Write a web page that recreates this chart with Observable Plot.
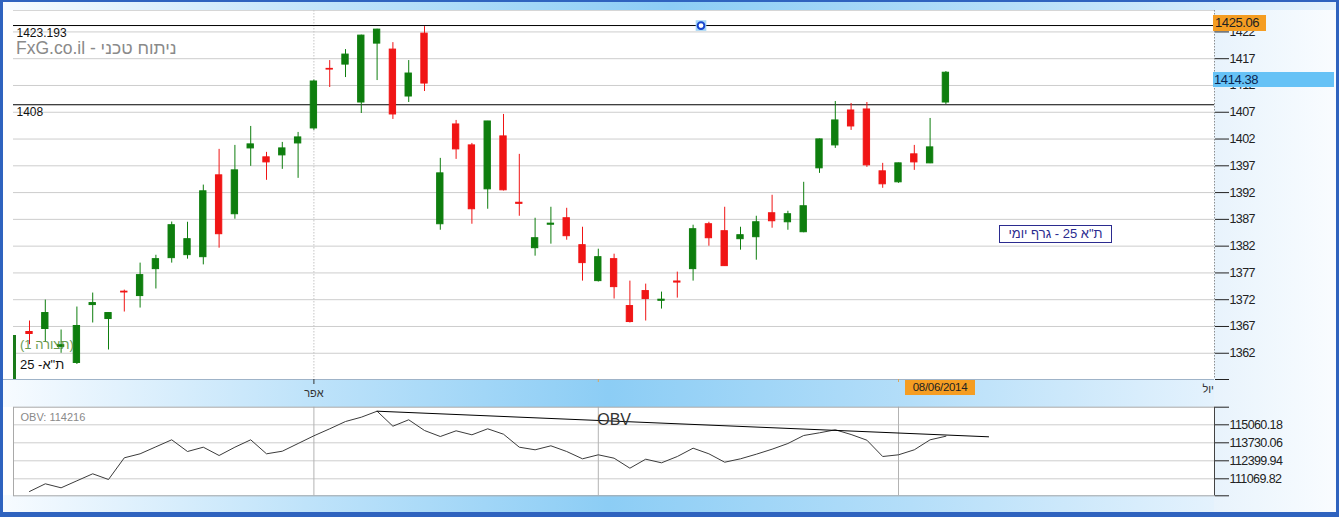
<!DOCTYPE html>
<html><head><meta charset="utf-8">
<script src="https://cdn.jsdelivr.net/npm/d3@7"></script>
<script src="https://cdn.jsdelivr.net/npm/@observablehq/plot@0.6"></script>
<style>
html,body{margin:0;padding:0;}
body{width:1339px;height:517px;overflow:hidden;font-family:"Liberation Sans",Arial,sans-serif;}
#wrap{position:relative;width:1339px;height:517px;background:#2f63bf;overflow:hidden;}
.abs{position:absolute;}
.band{background:linear-gradient(to right,#f7fbff 0%,#bfe3fa 25%,#8ccdf5 50%,#b4def9 75%,#e4f2fd 100%);}
svg{position:absolute;left:0;}
svg g[aria-label="y-axis tick label"] text{letter-spacing:-0.6px;}
</style></head>
<body><div id="wrap">
  <div class="abs" style="left:3px;top:2px;width:1333px;height:510px;background:#fff"></div>
  <div class="abs band" style="left:3px;top:2px;width:1333px;height:8px"></div>
  <div class="abs band" style="left:3px;top:379px;width:1211px;height:28px;border-top:1px solid #9fb3c8;box-sizing:border-box"></div>
  <div class="abs band" style="left:3px;top:495px;width:1211px;height:17px"></div>
  <div class="abs" style="left:1214px;top:10px;width:122px;height:502px;background:linear-gradient(to right,#e8f3fc,#f9fcff)"></div>
</div>
<script>
// ---- data ----
const open  = [1365.97,1366.53,1363.2,1360.19,1371.00,1368.39,1373.50,1372.68,1377.71,1379.76,1380.32,1379.94,1395.22,1387.96,1400.25,1398.58,1398.95,1401.18,1403.98,1415.10,1415.90,1408.82,1419.82,1418.70,1409.94,1421.68,1386.09,1404.72,1400.81,1392.61,1402.49,1390.10,1381.62,1386.00,1387.21,1382.18,1375.47,1379.57,1370.81,1373.61,1371.80,1375.40,1377.71,1386.09,1384.79,1383.30,1383.67,1388.14,1386.46,1384.60,1396.53,1400.81,1407.33,1407.52,1395.97,1393.92,1399.14,1397.46,1408.82];
const high  = [1368.02,1371.93,1366.34,1370.63,1373.24,1369.60,1373.79,1378.83,1380.30,1386.50,1386.46,1393.40,1400.07,1400.81,1404.35,1399.51,1401.37,1403.23,1413.00,1416.65,1418.70,1421.40,1422.50,1420.00,1416.65,1422.99,1398.39,1405.47,1401.18,1405.30,1406.59,1399.14,1387.21,1389.26,1389.07,1385.53,1381.43,1380.50,1375.47,1374.91,1373.42,1377.15,1385.91,1386.46,1389.26,1385.53,1387.58,1391.50,1388.51,1393.92,1402.00,1409.01,1408.64,1408.82,1397.46,1397.50,1400.81,1405.84,1414.60];
const low   = [1363.60,1364.11,1362.00,1359.90,1367.65,1362.61,1369.70,1370.44,1374.00,1378.83,1379.57,1378.50,1381.62,1387.03,1396.90,1394.29,1396.34,1394.66,1403.61,1411.62,1413.48,1406.77,1412.92,1405.66,1408.82,1410.87,1384.97,1398.20,1386.09,1388.89,1392.30,1387.58,1380.13,1382.37,1383.11,1375.47,1375.30,1372.12,1367.65,1368.02,1370.25,1372.30,1375.47,1381.99,1378.20,1381.25,1379.38,1385.35,1384.97,1384.50,1395.59,1400.25,1403.61,1396.71,1392.80,1393.73,1396.15,1397.40,1408.45];
const close = [1365.60,1369.51,1363.5,1367.09,1371.37,1369.51,1373.35,1376.59,1379.57,1385.91,1383.30,1392.24,1384.23,1396.15,1401.00,1397.64,1400.25,1402.30,1412.74,1414.97,1417.77,1421.31,1422.43,1406.59,1414.23,1412.36,1395.59,1400.07,1388.89,1405.28,1392.43,1389.90,1383.48,1386.20,1383.86,1378.83,1379.94,1374.35,1367.83,1372.12,1372.00,1375.20,1385.16,1383.48,1378.27,1384.04,1386.46,1386.65,1387.96,1389.45,1401.93,1405.47,1404.35,1397.09,1393.55,1397.46,1397.64,1400.44,1414.38];
const obv   = [110131,110700,110404,110922,111439,111018,112621,112917,113434,113951,113087,113405,112791,113405,113951,112917,113109,113678,114247,114764,115304,115622,116065,114957,115430,114639,114195,114617,114321,114764,114365,113405,113212,113508,113087,112547,112843,112592,111853,112518,112252,112717,113331,112917,112296,112547,112887,113257,113678,114269,114469,114690,114343,113922,112717,112843,113212,113951,114216];
const trendIdx = [22, 60.7];
const trendVal = [116065, 114173];
const priceTicks = [1422,1417,1412,1407,1402,1397,1392,1387,1382,1377,1372,1367,1362];
const obvTicks = [115060.18,113730.06,112399.94,111069.82];
const levelVals = [1423.193, 1408.4];
const levelLabels = ["1423.193", "1408"];
const monthIdx = [18, 36, 55];
const monthLabels = ["אפר", "", ""];
const endIdx = 74.6, endLabel = "יול";
const crossIdx = 55, crossLabel = "08/06/2014";
const markerIdx = 42.5;
const topPriceLabel = "1425.06", lastPriceLabel = "1414.38";
const obvLabel = "OBV: 114216";

// ---- build ----
const candles = open.map((o, i) => ({i, o, h: high[i], l: low[i], c: close[i]}));
const G = "#0e7e0e", R = "#f01515";
const col = d => d.c >= d.o ? G : R;
const XD = [-1.013, 75.0];
const YD = [1357.1, 1426.0];
const FONT = "Liberation Sans, Arial, sans-serif";
const wrap = document.getElementById("wrap");

const mainPlot = Plot.plot({
  width: 1339, height: 405,
  marginLeft: 13, marginRight: 125, marginTop: 10, marginBottom: 26,
  x: {type: "linear", domain: XD, axis: null, label: null},
  y: {domain: YD, axis: null, label: null},
  style: {background: "transparent", overflow: "visible", fontFamily: FONT},
  marks: [
    Plot.ruleY(priceTicks, {stroke: "#cdcdcd"}),
    Plot.ruleY([YD[1]], {stroke: "#d6d6d6"}),
    Plot.ruleX([monthIdx[0]], {stroke: "#c4c4c4", strokeDasharray: "1.5,1.5"}),
    Plot.ruleX([XD[1]], {stroke: "#8f8f8f", strokeDasharray: "1.5,1.5"}),
    Plot.ruleY(levelVals, {stroke: "#000"}),
    Plot.text(levelVals, {x: () => XD[0], y: d => d, text: (d, i) => levelLabels[i], textAnchor: "start", dx: 3, dy: 7.5, fontSize: 12, fill: "#111"}),
    Plot.ruleX(candles, {x: "i", y1: "l", y2: "h", stroke: col, strokeWidth: 1}),
    Plot.rect(candles, {x1: d => d.i - 0.2, x2: d => d.i + 0.2, y1: "o", y2: "c", fill: col, stroke: col, strokeWidth: 1}),
    Plot.dot([markerIdx], {x: d => d, y: () => levelVals[0], symbol: "square", r: 6, fill: "#a6d6f6", stroke: "none"}),
    Plot.dot([markerIdx], {x: d => d, y: () => levelVals[0], r: 3.4, fill: "#fff", stroke: "#1746cf", strokeWidth: 2}),
    Plot.axisY(priceTicks, {anchor: "right", label: null, tickSize: 14, tickPadding: 1, tickFormat: d => String(d), fontSize: 12.5, color: "#222"}),
    Plot.axisY([YD[0]], {anchor: "right", label: null, tickSize: 14, tickFormat: () => "", color: "#222"}),
    Plot.axisX([monthIdx[0]], {anchor: "bottom", label: null, tickSize: 5, tickPadding: 5, tickFormat: () => monthLabels[0], fontSize: 11, color: "#333"}),
    Plot.axisX(monthIdx.slice(1), {anchor: "bottom", label: null, tickSize: 3, tickFormat: () => "", color: "#d9a760"}),
    Plot.axisX([endIdx], {anchor: "bottom", label: null, tickSize: 0, tickPadding: 6, tickFormat: () => endLabel, fontSize: 11, color: "#333"})
  ]
});
mainPlot.style.top = "0px";
wrap.appendChild(mainPlot);

const obvData = obv.map((v, i) => ({i, v}));
const trend = trendIdx.map((i, k) => ({i, v: trendVal[k]}));
const OD = [109813.6, 116360.8];
const obvPlot = Plot.plot({
  width: 1339, height: 100,
  marginLeft: 13, marginRight: 125, marginTop: 6.7, marginBottom: 4.7,
  x: {type: "linear", domain: XD, axis: null, label: null},
  y: {domain: OD, axis: null, label: null},
  style: {background: "transparent", overflow: "visible", fontFamily: FONT},
  marks: [
    Plot.ruleY(obvTicks, {stroke: "#cdcdcd"}),
    Plot.ruleX(monthIdx, {stroke: "#b3b3b3"}),
    Plot.frame({stroke: "#a9a9a9"}),
    Plot.ruleX([XD[1]], {stroke: "#444"}),
    Plot.line(obvData, {x: "i", y: "v", stroke: "#3b3b3b", strokeWidth: 1}),
    Plot.line(trend, {x: "i", y: "v", stroke: "#000", strokeWidth: 1}),
    Plot.text([obvLabel], {frameAnchor: "top-left", dx: 7, dy: 6, fontSize: 11, fill: "#8a8a8a"}),
    Plot.text(["OBV"], {x: () => 37, y: () => 115450, fontSize: 16, fill: "#333"}),
    Plot.axisY(obvTicks, {anchor: "right", label: null, tickSize: 14, tickPadding: 1, tickFormat: d => d.toFixed(2), fontSize: 12.5, color: "#222"}),
    Plot.axisY(OD, {anchor: "right", label: null, tickSize: 14, tickFormat: () => "", color: "#222"})
  ]
});
obvPlot.style.top = "400px";
wrap.appendChild(obvPlot);

// ---- overlays positioned through the scales ----
const xs = mainPlot.scale("x"), ys = mainPlot.scale("y");
function box(html, css) {
  const d = document.createElement("div");
  d.className = "abs";
  d.style.cssText += css;
  d.textContent = html;
  wrap.appendChild(d);
  return d;
}
box(topPriceLabel, `left:1213px;top:${ys.apply(levelVals[0]) - 10}px;width:53px;height:16px;background:#f59d22;color:#222;font:13px/16px ${FONT};letter-spacing:-0.4px;padding-left:2px;box-sizing:border-box;`);
box(lastPriceLabel, `left:1213px;top:${ys.apply(close[close.length-1]) - 0.5}px;width:121px;height:15px;background:#66c2f6;color:#0b2550;font:13px/15px ${FONT};letter-spacing:-0.4px;padding-left:1px;box-sizing:border-box;`);
box(crossLabel, `left:${xs.apply(crossIdx) + 7}px;top:380px;width:70px;height:15px;background:#f59d22;color:#222;font:11.5px/15px ${FONT};letter-spacing:-0.3px;text-align:center;`);
box("ת\"א 25 - גרף יומי", `left:999px;top:225px;width:113px;height:18px;border:1px solid #2b2b8f;box-sizing:border-box;background:#fff;color:#2b2b8f;font:13px/16px ${FONT};text-align:center;direction:rtl;`);
box("FxG.co.il - ניתוח טכני", `left:16px;top:40.5px;color:#8a8a8a;font:17.5px/14px ${FONT};white-space:nowrap;`);
box("", `left:13px;top:335px;width:3px;height:44px;background:#1a7a1a;`);
box("(תצורה 1)", `left:20px;top:338px;color:#4f8a2f;font:13px/14px ${FONT};white-space:nowrap;opacity:0.85;`);
box("ת\"א- 25", `left:20px;top:358px;color:#111;font:13px/14px ${FONT};white-space:nowrap;direction:rtl;`);
</script>
</body></html>
